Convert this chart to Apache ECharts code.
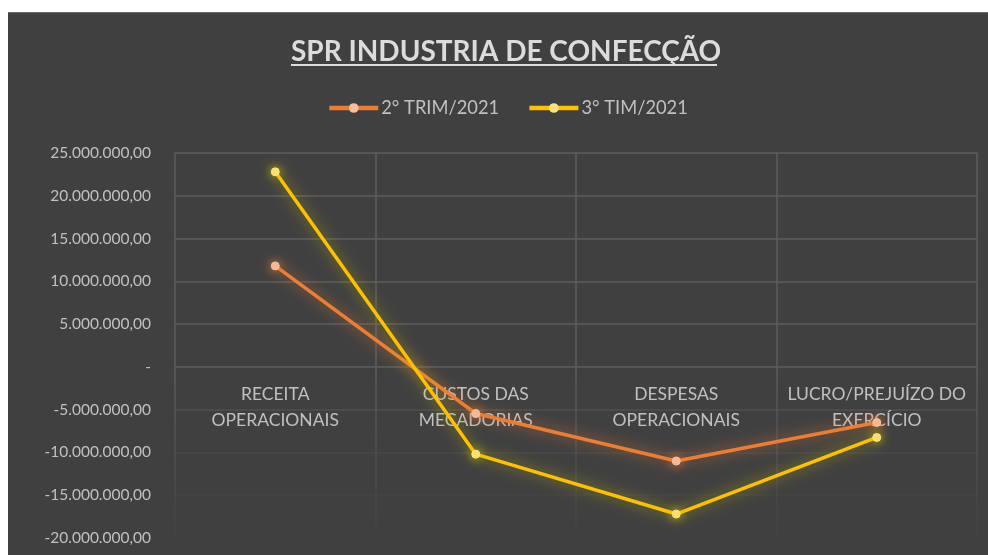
<!DOCTYPE html>
<html><head><meta charset="utf-8">
<script src="https://cdn.jsdelivr.net/npm/echarts@6/dist/echarts.min.js"></script>
<style>
html,body{margin:0;padding:0;background:#fff;width:988px;height:555px;overflow:hidden;}
#c{position:absolute;left:8px;top:12px;width:980px;height:543px;background:#404040;border-top:1px solid #6a6a6a;box-sizing:border-box;}
</style></head>
<body><div id="c"></div>
<script>
const titleText = 'SPR INDUSTRIA DE CONFECÇÃO';
const categories = ['RECEITA\nOPERACIONAIS', 'CUSTOS DAS\nMECADORIAS', 'DESPESAS\nOPERACIONAIS', 'LUCRO/PREJUÍZO DO\nEXERCÍCIO'];
const seriesNames = ['2° TRIM/2021', '3° TIM/2021'];
const trim2 = [11800000, -5450000, -11000000, -6500000];
const trim3 = [22800000, -10200000, -17200000, -8250000];
const yMin = -20000000, yMax = 25000000, yStep = 5000000;

function fmt(v){
  if (v === 0) return '-';
  const neg = v < 0; v = Math.abs(v);
  const s = Math.round(v).toString().replace(/\B(?=(\d{3})+(?!\d))/g, '.');
  return (neg ? '-' : '') + s + ',00';
}

const chart = echarts.init(document.getElementById('c'));
const font = 'Lato';
const txt = '#c0c0c0';
chart.setOption({
  backgroundColor: '#404040',
  textStyle: {fontFamily: font},
  title: {
    text: titleText, left: 278, top: 20,
    textStyle: {color: '#dcdcdc', fontSize: 28, fontWeight: 'bold', fontFamily: font}
  },
  graphic: [{
    type: 'rect', left: 283, top: 51,
    shape: {width: 426, height: 2},
    style: {fill: '#dcdcdc'}
  }],
  legend: {
    top: 81, left: 314, itemGap: 28, itemWidth: 49, itemHeight: 12,
    textStyle: {color: txt, fontSize: 18.3, fontFamily: font, padding: [0,0,0,-2]},
    lineStyle: {width: 4.5},
    data: seriesNames
  },
  grid: {left: 167, right: 11, top: 140, bottom: 17, containLabel: false},
  xAxis: {
    type: 'category', data: categories, boundaryGap: true, position: 'bottom',
    axisLine: {show: false}, axisTick: {show: false},
    axisLabel: {show: true, color: txt, fontSize: 17.5, lineHeight: 26, margin: -157, fontFamily: font, interval: 0, verticalAlign: 'top'},
    splitLine: {show: true, lineStyle: {width: 1.5, color: new echarts.graphic.LinearGradient(0, 0, 0, 543, [
      {offset: 0, color: '#5c5c5c'}, {offset: 0.66, color: '#5c5c5c'}, {offset: 0.95, color: '#434343'}, {offset: 1, color: '#404040'}
    ], true)}}
  },
  yAxis: {
    type: 'value', min: yMin, max: yMax, interval: yStep,
    axisLine: {show: false}, axisTick: {show: false},
    axisLabel: {color: txt, fontSize: 15.5, margin: 24, fontFamily: font, formatter: fmt},
    splitLine: {lineStyle: {width: 1.5, color: ['rgba(0,0,0,0)', '#444444', '#484848', '#4f4f4f', '#5c5c5c', '#5c5c5c', '#5c5c5c', '#5c5c5c', '#5c5c5c', '#5c5c5c']}}
  },
  series: [
    {
      name: seriesNames[0], type: 'line', data: trim2,
      symbol: 'circle', symbolSize: 8,
      lineStyle: {color: '#ED7D31', width: 3.5, shadowColor: 'rgba(237,125,49,0.75)', shadowBlur: 14},
      itemStyle: {color: '#F6BFA0', borderColor: '#F6BFA0', shadowColor: 'rgba(237,125,49,0.9)', shadowBlur: 10}
    },
    {
      name: seriesNames[1], type: 'line', data: trim3,
      symbol: 'circle', symbolSize: 8,
      lineStyle: {color: '#FFC000', width: 3.5, shadowColor: 'rgba(210,200,0,0.7)', shadowBlur: 14},
      itemStyle: {color: '#FFE27A', borderColor: '#FFE27A', shadowColor: 'rgba(210,200,0,0.9)', shadowBlur: 10}
    }
  ]
});
</script></body></html>
